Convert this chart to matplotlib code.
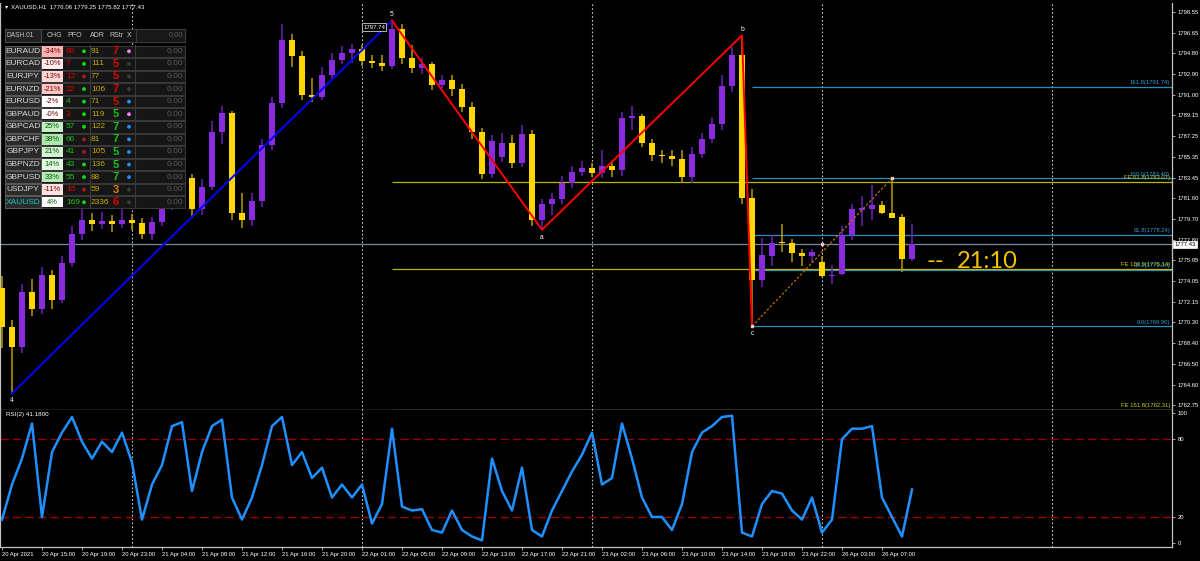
import matplotlib
matplotlib.use("Agg")
import matplotlib.pyplot as plt
from matplotlib.patches import Rectangle, Circle

plt.rcParams['font.family'] = ['Liberation Sans', 'DejaVu Sans']

# XAUUSD H1, 20 Apr 11:00 .. 26 Apr 10:00
opens = [1773.4, 1769.8, 1768.0, 1773.0, 1771.5, 1774.6, 1772.3, 1775.7, 1778.3, 1779.6,
         1779.2, 1779.5, 1779.2, 1779.6, 1779.3, 1778.3, 1779.4, 1780.9, 1782.6, 1783.4,
         1780.6, 1782.6, 1787.6, 1789.3, 1780.2, 1779.6, 1781.3, 1786.4, 1790.2, 1796.0,
         1794.5, 1791.0, 1790.8, 1792.8, 1794.2, 1794.8, 1795.2, 1794.1, 1793.9, 1793.6,
         1797.0, 1794.3, 1793.4, 1793.8, 1791.9, 1792.3, 1791.5, 1789.9, 1787.6, 1783.8,
         1785.3, 1786.6, 1784.8, 1787.4, 1779.6, 1781.0, 1781.5, 1783.0, 1784.0, 1784.3,
         1783.9, 1784.5, 1784.1, 1788.9, 1789.1, 1786.6, 1785.5, 1785.4, 1785.1, 1783.5,
         1785.6, 1787.0, 1788.3, 1791.8, 1794.6, 1781.55, 1774.09, 1776.3, 1777.55, 1777.45,
         1776.6, 1776.3, 1775.8, 1774.5, 1774.7, 1778.2, 1780.5, 1780.55, 1780.95, 1780.25,
         1779.85, 1776.06]
highs = [1774.5, 1770.5, 1773.8, 1774.2, 1775.3, 1775.0, 1776.3, 1779.0, 1781.5, 1780.2,
         1780.3, 1780.0, 1781.6, 1780.1, 1779.8, 1779.9, 1781.4, 1783.1, 1784.2, 1783.8,
         1783.3, 1788.6, 1790.0, 1789.5, 1782.0, 1782.0, 1787.0, 1790.8, 1797.4, 1796.5,
         1795.0, 1792.5, 1793.5, 1794.8, 1795.4, 1795.6, 1795.5, 1794.6, 1794.6, 1797.74,
         1797.4, 1795.5, 1794.3, 1794.0, 1792.8, 1792.8, 1792.0, 1790.3, 1788.0, 1787.3,
         1787.5, 1787.3, 1788.2, 1787.8, 1781.5, 1782.0, 1783.6, 1784.5, 1785.0, 1784.8,
         1786.0, 1785.0, 1789.4, 1790.0, 1789.2, 1787.0, 1786.0, 1786.0, 1786.0, 1786.2,
         1787.5, 1789.0, 1792.8, 1795.3, 1796.4, 1782.4, 1777.91, 1778.2, 1779.2, 1777.9,
         1776.9, 1776.9, 1776.3, 1775.5, 1779.0, 1781.0, 1781.75, 1782.8, 1781.3, 1783.4,
         1780.1, 1779.25]
lows = [1767.9, 1763.8, 1767.5, 1770.8, 1771.0, 1771.5, 1772.0, 1775.3, 1777.8, 1778.6,
        1778.8, 1778.5, 1778.9, 1778.7, 1777.9, 1777.8, 1779.0, 1780.5, 1782.0, 1779.8,
        1780.0, 1782.3, 1786.5, 1779.6, 1778.9, 1779.0, 1780.8, 1786.0, 1789.8, 1793.5,
        1790.5, 1790.3, 1790.5, 1792.3, 1793.8, 1793.9, 1793.6, 1793.4, 1793.2, 1793.3,
        1793.8, 1793.0, 1792.9, 1791.4, 1791.5, 1790.9, 1789.4, 1787.0, 1783.3, 1783.4,
        1784.9, 1784.3, 1784.4, 1779.0, 1778.7, 1780.0, 1781.0, 1782.5, 1783.6, 1783.5,
        1783.4, 1783.5, 1783.6, 1787.8, 1786.2, 1785.0, 1784.8, 1784.5, 1783.0, 1783.0,
        1785.2, 1786.6, 1787.8, 1791.2, 1781.0, 1769.9, 1773.45, 1775.4, 1776.7, 1775.8,
        1775.4, 1775.7, 1774.4, 1773.8, 1774.6, 1777.8, 1779.0, 1779.6, 1780.1, 1779.75,
        1774.85, 1775.82]
closes = [1769.8, 1768.0, 1773.0, 1771.5, 1774.6, 1772.3, 1775.7, 1778.3, 1779.6, 1779.2,
          1779.5, 1779.2, 1779.6, 1779.3, 1778.3, 1779.4, 1780.9, 1782.6, 1783.4, 1780.6,
          1782.6, 1787.6, 1789.3, 1780.2, 1779.6, 1781.3, 1786.4, 1790.2, 1796.0, 1794.5,
          1791.0, 1790.8, 1792.8, 1794.2, 1794.8, 1795.2, 1794.1, 1793.9, 1793.6, 1797.0,
          1794.3, 1793.4, 1793.8, 1791.9, 1792.3, 1791.5, 1789.9, 1787.6, 1783.8, 1786.8,
          1786.6, 1784.8, 1787.4, 1779.6, 1781.0, 1781.5, 1783.0, 1784.0, 1784.3, 1783.9,
          1784.5, 1784.1, 1788.9, 1789.1, 1786.6, 1785.5, 1785.4, 1785.1, 1783.5, 1785.6,
          1787.0, 1788.3, 1791.8, 1794.6, 1781.55, 1774.09, 1776.37, 1777.5, 1777.45, 1776.6,
          1776.3, 1776.7, 1774.5, 1774.6, 1778.2, 1780.55, 1780.7, 1780.95, 1780.2, 1779.8,
          1776.07, 1777.43]
rsi = [18, 45, 65, 92, 20, 70, 85, 97, 78, 65, 78, 70, 85, 62, 18, 45, 60, 90, 93, 40,
       70, 90, 95, 35, 18, 35, 60, 90, 97, 60, 70, 50, 58, 35, 45, 35, 45, 15, 30, 88,
       28, 25, 26, 10, 8, 25, 10, 5, 2, 65, 40, 25, 58, 10, 5, 25, 40, 55, 68, 85,
       45, 50, 92, 65, 35, 20, 20, 10, 30, 70, 85, 90, 97, 98, 8, 5, 30, 40, 38, 25,
       18, 35, 8, 18, 80, 88, 88, 90, 35, 20, 5, 41.18]

time_labels = ['20 Apr 2021', '20 Apr 15:00', '20 Apr 19:00', '20 Apr 23:00', '21 Apr 04:00',
               '21 Apr 08:00', '21 Apr 12:00', '21 Apr 16:00', '21 Apr 20:00', '22 Apr 01:00',
               '22 Apr 05:00', '22 Apr 09:00', '22 Apr 13:00', '22 Apr 17:00', '22 Apr 21:00',
               '23 Apr 02:00', '23 Apr 06:00', '23 Apr 10:00', '23 Apr 14:00', '23 Apr 18:00',
               '23 Apr 22:00', '26 Apr 03:00', '26 Apr 07:00']
day_breaks = [13, 36, 59, 82, 105]
price_ticks = [1798.55, 1796.65, 1794.80, 1792.90, 1791.00, 1789.15, 1787.25, 1785.35,
               1783.45, 1781.60, 1779.70, 1777.80, 1775.95, 1774.05, 1772.15, 1770.30,
               1768.40, 1766.50, 1764.60, 1762.75]

# zigzag pivots (bar index, price, label)
zz_idx = [1, 39, 54, 74, 75]
zz_px = [1763.8, 1797.74, 1778.7, 1796.4, 1769.90]
zz_lab = ['4', '5', 'a', 'b', 'c']

fib_levels = ['0.0', '38.2', '61.8', '100.0', '161.8']
fib_prices = [1769.90, 1775.06, 1778.24, 1783.40, 1791.74]
fe_levels = ['61.8', '100.0', '161.8']
fe_prices = [1783.07, 1775.14, 1762.31]

symbols = ['EURAUD', 'EURCAD', 'EURJPY', 'EURNZD', 'EURUSD', 'GBPAUD', 'GBPCAD',
           'GBPCHF', 'GBPJPY', 'GBPNZD', 'GBPUSD', 'USDJPY', 'XAUUSD']
chg = ['-34%', '-10%', '-13%', '-21%', '-2%', '-0%', '25%', '38%', '21%', '14%', '33%', '-11%', '4%']
chg_bg = ['#ffb4b4', '#ffecec', '#ffd6d6', '#ffc4c4', '#ffffff', '#ffffff', '#c4f0c4',
          '#aee6ae', '#d2f4d2', '#e2f8e2', '#b6eab6', '#ffe2e2', '#ffffff']
pfo = ['60', '7', '12', '22', '4', '3', '57', '66', '41', '43', '55', '15', '169']
pfo_col = ['r', 'r', 'r', 'r', 'g', 'r', 'g', 'g', 'g', 'g', 'g', 'r', 'g']
pfo_dot = ['g', 'g', 'r', 'g', 'g', 'g', 'g', 'r', 'r', 'g', 'g', 'r', 'g']
adr = ['91', '111', '77', '106', '71', '119', '122', '81', '105', '136', '88', '59', '2336']
rstr = ['7', '5', '5', '7', '5', '5', '7', '7', '5', '5', '7', '3', '6']
rstr_col = ['r', 'r', 'r', 'r', 'r', 'g', 'g', 'g', 'g', 'g', 'g', 'o', 'r']
rstr_dot = ['p', 'k', 'k', 'k', 'b', 'p', 'b', 'b', 'b', 'b', 'b', 'k', 'k']

BULL, BEAR = '#8a2be2', '#ffd700'
W, H = 1200, 561

fig = plt.figure(figsize=(W / 100, H / 100), dpi=100, facecolor='black')
ax = fig.add_axes([0, (H - 410) / H, 1172 / W, 407 / H], facecolor='black')
axr = fig.add_axes([0, (H - 547) / H, 1172 / W, 137 / H], facecolor='black', sharex=ax)

# candles
for i in range(len(opens)):
    o, h, l, c = opens[i], highs[i], lows[i], closes[i]
    up = c >= o
    col = BULL if up else BEAR
    wick = '#6a22b8' if up else '#b89a00'
    ax.vlines(i, l, h, color=wick, lw=1.1, zorder=3)
    body = max(abs(c - o), 0.08)
    ax.bar(i, body, bottom=min(o, c), width=0.62, color=col, lw=0, zorder=4)

# current price line
ax.axhline(closes[-1], color='#778899', lw=0.9, zorder=2)

# fib retracement from c to the last swing high
for lev, p in zip(fib_levels, fib_prices):
    ax.hlines(p, 75, 117, color='#2a8cc0', lw=0.9, zorder=2)
    ax.text(116.8, p + 0.12, f'{lev}({p:.2f})', color='#2f9fd6', fontsize=4.2,
            ha='right', va='bottom', zorder=6)
for lev, p in zip(fe_levels, fe_prices):
    ax.hlines(p, 39, 117, color='#b8b800', lw=0.9, zorder=2, clip_on=False)
    ax.text(116.8, p + 0.12, f'FE {lev}({p:.2f})', color='#d0d000', fontsize=4.2,
            ha='right', va='bottom', zorder=5)
ax.plot([75, 89], [1769.90, 1783.40], color='#c06a00', lw=0.9, ls=(0, (2, 1.5)), zorder=5)
ax.plot([75, 89, 82], [1769.90, 1783.40, 1777.43], ls='none', marker='s', ms=1.6,
        color='#ffc0c0', zorder=6)

# zigzag
ax.plot(zz_idx[:2], zz_px[:2], color='#0000ff', lw=1.4, zorder=5)
ax.plot(zz_idx[1:], zz_px[1:], color='#ff0000', lw=1.4, zorder=5)
for i, p, lab in zip(zz_idx, zz_px, zz_lab):
    low = lab in ('4', 'a', 'c')
    ax.text(i, p + (-0.35 if low else 0.25), lab, color='white', fontsize=4.8,
            ha='center', va='top' if low else 'bottom', zorder=7)
ax.text(37.2, 1797.74 - 0.6, '1797.74', color='white', fontsize=4.3, ha='center', va='center',
        zorder=7, bbox=dict(boxstyle='square,pad=0.25', fc='black', ec='#d0d0d0', lw=0.6))

# countdown to the bar close
ax.text(92.5, 1775.85, '--', color='#f2c400', fontsize=17, family=['Lato', 'DejaVu Sans'],
        ha='left', va='center', zorder=7)
ax.text(95.5, 1775.85, '21:10', color='#f2c400', fontsize=17, family=['Lato', 'DejaVu Sans'],
        ha='left', va='center', zorder=7)

ax.set_xlim(-0.2, 117.0)
ax.set_ylim(1762.28, 1799.35)

# RSI
axr.plot(range(len(rsi)), rsi, color='#1e90ff', lw=1.8, zorder=4)
for lv in (80, 20):
    axr.axhline(lv, color='#9b0000', lw=1.0, ls=(0, (6, 3)), zorder=2)
axr.set_ylim(-3.1, 102.4)
axr.text(0.4, 100.5, 'RSI(2) 41.1800', color='white', fontsize=4.5, va='top', ha='left')

for a in (ax, axr):
    for d in day_breaks:
        a.axvline(d, color='#c8c8c8', lw=0.8, ls=(0, (1.5, 2)), zorder=1)
    for s in a.spines.values():
        s.set_color('#c0c0c0')
        s.set_linewidth(0.9)
    a.spines['top'].set_visible(False)
    a.yaxis.tick_right()
    a.tick_params(axis='y', colors='#c0c0c0', labelcolor='white', labelsize=4.2,
                  length=2, width=0.6, pad=2)

ax.set_yticks(price_ticks)
ax.set_yticklabels([f'{t:.2f}' for t in price_ticks])
ax.tick_params(axis='x', bottom=False, labelbottom=False)

axr.set_yticks([100, 80, 20, 0])
axr.set_xticks(range(0, 4 * len(time_labels), 4))
axr.set_xticklabels(time_labels, ha='left')
axr.tick_params(axis='x', colors='#c0c0c0', labelcolor='white', labelsize=4.2,
                length=2, width=0.6, pad=1.5)

# overlay in pixel coords for the header and the dashboard
ov = fig.add_axes([0, 0, 1, 1], facecolor='none')
ov.set_xlim(0, W)
ov.set_ylim(H, 0)
ov.axis('off')

ov.text(5, 6.5, '\u25be', color='white', fontsize=4.5, va='center', ha='left')
ov.text(11, 6.5, 'XAUUSD,H1  1776.06 1779.25 1775.82 1777.43', color='white', fontsize=4.4,
        va='center', ha='left')
ov.text(1185, 244.3, '1777.43', color='black', fontsize=4.2, va='center', ha='center',
        bbox=dict(boxstyle='square,pad=0.2', fc='white', ec='white', lw=0.5))

cols = {'r': '#e00000', 'g': '#18c018', 'o': '#e08000'}
dots = {'r': '#b01818', 'g': '#10e010', 'p': '#ff80ff', 'k': '#3c3c3c', 'b': '#1e90ff'}

ov.add_patch(Rectangle((5, 29), 180, 13, fc='#141414', ec='#3a3a3a', lw=0.8))
ov.add_patch(Rectangle((5, 29), 36, 13, fc='#202020', ec='#4a4a4a', lw=0.8))
ov.add_patch(Rectangle((136, 29), 49, 13, fc='#181818', ec='#3a3a3a', lw=0.8))
ov.text(20, 35.5, 'DASH.01', color='#c8c8c8', fontsize=4.8, ha='center', va='center')
for x, t in zip([54, 75, 97, 117, 129], ['CHG', 'PFO', 'ADR', 'RStr', 'X']):
    ov.text(x, 35.5, t, color='#c8c8c8', fontsize=5, ha='center', va='center')
ov.text(183, 35.5, '0.00', color='#5a5a5a', fontsize=5.5, ha='right', va='center')

for k, s in enumerate(symbols):
    y0 = 45.5 + 12.58 * k
    yc = y0 + 5.8
    ov.add_patch(Rectangle((5, y0), 180, 11.6, fc='#161616', ec='#3a3a3a', lw=0.7))
    ov.add_patch(Rectangle((5, y0), 36, 11.6, fc='#2a2a2a', ec='#5a5a5a', lw=0.7))
    ov.add_patch(Rectangle((42, y0 + 0.6), 20.5, 10.4, fc=chg_bg[k], ec='none'))
    ov.text(23, yc, s, color='#19c6c6' if s == 'XAUUSD' else '#d8d8d8', fontsize=6,
            ha='center', va='center')
    neg = chg[k].startswith('-')
    ov.text(52, yc, chg[k], color='#7a0000' if neg else '#005a00', fontsize=5.4,
            ha='center', va='center')
    ov.text(66, yc, pfo[k], color=cols[pfo_col[k]], fontsize=6, ha='left', va='center')
    ov.add_patch(Circle((84, yc), 1.9, fc=dots[pfo_dot[k]], ec='none'))
    ov.text(91, yc, adr[k], color='#c8a800', fontsize=6, ha='left', va='center')
    ov.text(116, yc, rstr[k], color=cols[rstr_col[k]], fontsize=8,
            weight='bold', ha='center', va='center')
    ov.add_patch(Circle((129, yc), 1.9, fc=dots[rstr_dot[k]], ec='none'))
    ov.text(183, yc, '0.00', color='#5a5a5a', fontsize=6, ha='right', va='center')
ov.vlines([90, 135], 44, 208, color='#3a3a3a', lw=0.8)

fig.savefig('out.png', dpi=100, facecolor='black')
